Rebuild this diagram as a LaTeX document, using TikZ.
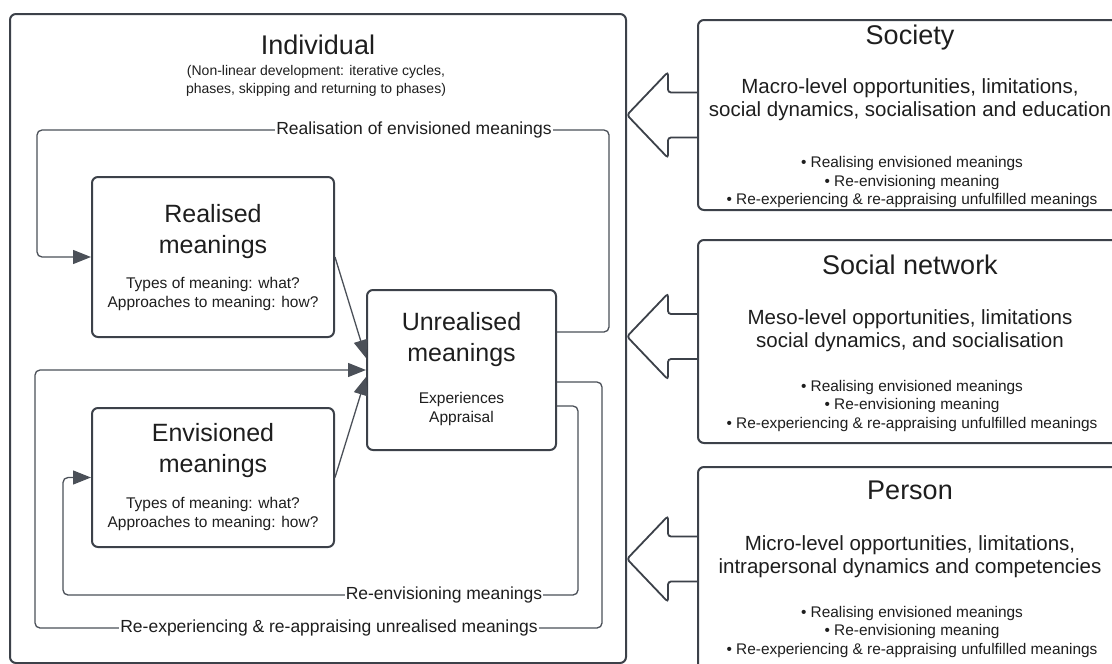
\documentclass[tikz,border=0pt]{standalone}
\usepackage{fontspec}
\setmainfont{Liberation Sans}
\usetikzlibrary{arrows.meta,calc}
\definecolor{boxc}{HTML}{3C4149}
\definecolor{linec}{HTML}{4B5058}
\definecolor{txt}{HTML}{1E1E1E}
\tikzset{
  box/.style={draw=boxc, line width=2pt, rounded corners=6pt, fill=white, inner sep=0pt},
  conn/.style={draw=linec, line width=1.3pt, rounded corners=5pt},
  tipend/.style={-{Triangle[length=18pt,width=14pt]}},
  lbl/.style={fill=white, inner sep=1pt, font=\fontsize{17.5}{20}\selectfont, text=txt},
  bigttl/.style={align=center, font=\fontsize{27}{31}\selectfont, text=txt, inner sep=0pt},
  ttl/.style={align=center, font=\fontsize{25}{31}\selectfont, text=txt, inner sep=0pt},
  sub/.style={align=center, font=\fontsize{15.5}{19}\selectfont, text=txt, inner sep=0pt},
  small/.style={align=center, font=\fontsize{14}{18.5}\selectfont, text=txt, inner sep=0pt},
  mid/.style={align=center, font=\fontsize{20.5}{23}\selectfont, text=txt, inner sep=0pt},
  bul/.style={align=center, font=\fontsize{15.4}{18.5}\selectfont, text=txt, inner sep=0pt},
  blockarrow/.style={draw=boxc, line width=1.8pt, rounded corners=3pt, fill=white},
}
\begin{document}
\begin{tikzpicture}[x=1pt,y=-1pt]
\useasboundingbox[fill=white] (0,0) rectangle (1112,664);
\clip (0,0) rectangle (1112,664);

% Individual container
\node[box, minimum width=616pt, minimum height=649pt] (ind) at (318,338.5) {};
\node[bigttl] (indt) at (318,45) {Individual};
\node[small] (inds) at (316,81) {(Non-linear development: iterative cycles,\\phases, skipping and returning to phases)};

% inner boxes
\node[box, minimum width=242pt, minimum height=160pt] (real) at (213,257) {};
\node[ttl] (realt) at (213,232) {Realised\\meanings};
\node[sub] (reals) at (213,294) {Types of meaning: what?\\Approaches to meaning: how?};

\node[box, minimum width=242pt, minimum height=139pt] (env) at (213,477.5) {};
\node[ttl] (envt) at (213,451) {Envisioned\\meanings};
\node[sub] (envs) at (213,514) {Types of meaning: what?\\Approaches to meaning: how?};

\node[box, minimum width=189pt, minimum height=160pt] (unr) at (461.5,370) {};
\node[ttl] (unrt) at (461.5,340) {Unrealised\\meanings};
\node[sub] (unrs) at (461.5,409) {Experiences\\Appraisal};

% loop corner coordinates
\coordinate (a1) at (609,332);
\coordinate (a2) at (609,130);
\coordinate (a3) at (37,130);
\coordinate (b1) at (602,382);
\coordinate (b2) at (602,628);
\coordinate (b3) at (35,628);
\coordinate (c1) at (578,406);
\coordinate (c2) at (578,595);
\coordinate (c3) at (63,595);

% Realisation loop
\draw[conn, tipend] (unr.east |- a1) -- (a1) -- (a2) -- (a3) -- (a3 |- real.west) -- (real.west);
\node[lbl] (lrea) at (414,130) {Realisation of envisioned meanings};

% Re-experiencing loop
\draw[conn, tipend] (unr.east |- b1) -- (b1) -- (b2) -- (b3) -- (b3 |- unr.west) -- (unr.west);
\node[lbl] (lrex) at (329,628) {Re-experiencing \& re-appraising unrealised meanings};

% Re-envisioning loop
\draw[conn, tipend] (unr.east |- c1) -- (c1) -- (c2) -- (c3) -- (c3 |- env.west) -- (env.west);
\node[lbl] (lren) at (444,595) {Re-envisioning meanings};

% direct arrows
\draw[conn, tipend] (real.east) -- ($(unr.west)+(0,-12)$);
\draw[conn, tipend] (env.east) -- ($(unr.west)+(0,7)$);

% block arrows
\foreach \c in {115,336.5,559} {
  \draw[blockarrow] (627,\c) -- (668,\c-43) -- (668,\c-22.5) -- (702,\c-22.5)
     -- (702,\c+22.5) -- (668,\c+22.5) -- (668,\c+43) -- cycle;
}

% right boxes
\node[box, minimum width=424pt, minimum height=190pt] (soc) at (910,115) {};
\node[bigttl] (soct) at (910,38) {Society};
\node[mid] (socm) at (910,100) {Macro-level opportunities, limitations,\\social dynamics, socialisation and education};
\node[bul] (socb) at (912,182.5) {• Realising envisioned meanings\\• Re-envisioning meaning\\• Re-experiencing \& re-appraising unfulfilled meanings};

\node[box, minimum width=424pt, minimum height=203pt] (net) at (910,341.5) {};
\node[bigttl] (nett) at (910,265) {Social network};
\node[mid] (netm) at (910,331) {Meso-level opportunities, limitations\\social dynamics, and socialisation};
\node[bul] (netb) at (912,406) {• Realising envisioned meanings\\• Re-envisioning meaning\\• Re-experiencing \& re-appraising unfulfilled meanings};

\node[box, minimum width=424pt, minimum height=216pt] (per) at (910,575) {};
\node[bigttl] (pert) at (910,490) {Person};
\node[mid] (perm) at (910,557) {Micro-level opportunities, limitations,\\intrapersonal dynamics and competencies};
\node[bul] (perb) at (912,632) {• Realising envisioned meanings\\• Re-envisioning meaning\\• Re-experiencing \& re-appraising unfulfilled meanings};
\end{tikzpicture}
\end{document}
